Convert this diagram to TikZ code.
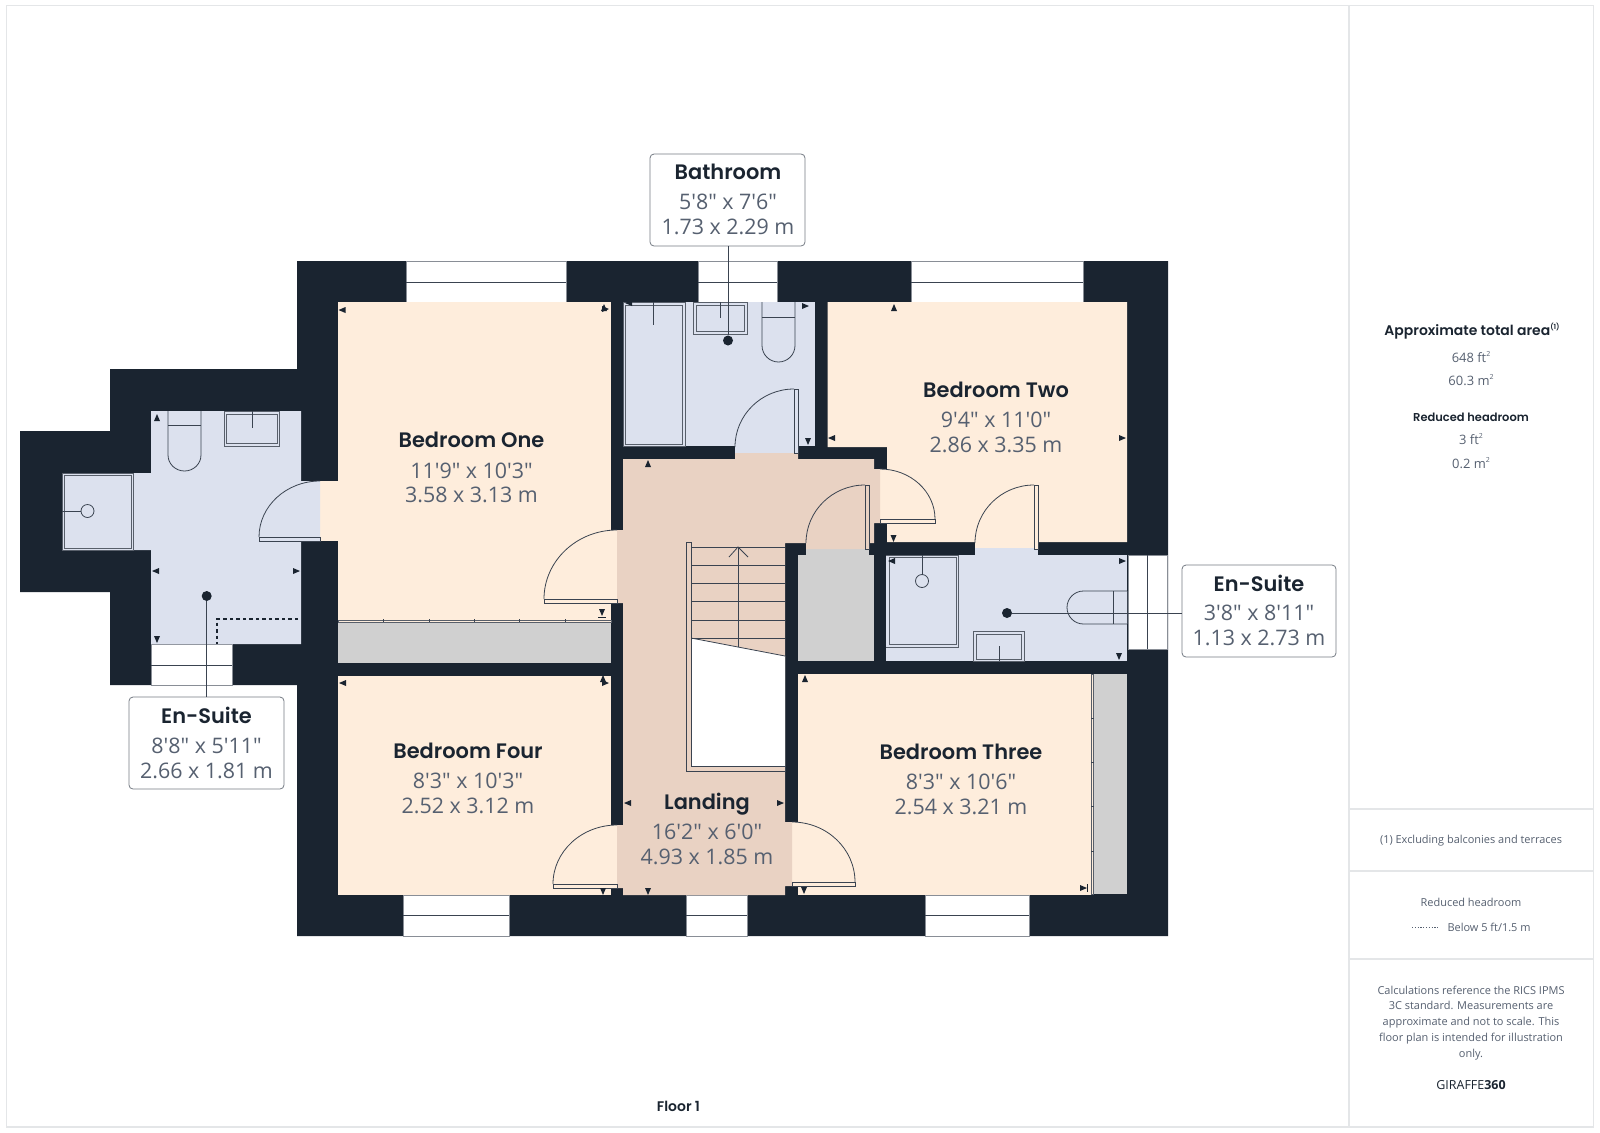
\documentclass[tikz,border=0pt]{standalone}
\usepackage{fontspec}
\setmainfont{Open Sans}[Ligatures=TeXOff]
\newfontfamily\ttl{Poppins}[UprightFont=*-Medium,BoldFont=*-SemiBold]
\definecolor{wallc}{HTML}{1A2430}
\definecolor{bedc}{HTML}{FEEDDC}
\definecolor{bathc}{HTML}{DCE1EE}
\definecolor{landc}{HTML}{E9D2C3}
\definecolor{stoc}{HTML}{D0D0D0}
\definecolor{framec}{HTML}{E4E6E8}
\definecolor{txtc}{HTML}{566070}
\definecolor{linec}{HTML}{3A4350}
\tikzset{
  thinl/.style={draw=linec,line width=0.8bp},
  fix/.style={draw=linec!85,line width=0.9bp},
  frameline/.style={draw=framec,line width=1.2bp},
  lab/.style={draw=linec!70,fill=white,rounded corners=4bp,line width=0.8bp,inner sep=0pt},
  title/.style={font=\ttl\bfseries\fontsize{21}{21}\selectfont,text=wallc,inner sep=0pt},
  dims/.style={font=\fontsize{21.5}{21.5}\selectfont,text=txtc,inner sep=0pt},
  ptitle/.style={font=\ttl\bfseries\fontsize{14}{14}\selectfont,text=wallc,inner sep=0pt},
  pdim/.style={font=\fontsize{13}{13}\selectfont,text=txtc,inner sep=0pt},
  pnote/.style={font=\fontsize{11}{11}\selectfont,text=txtc,inner sep=0pt},
  dotn/.style={circle,fill=wallc,minimum size=10bp,inner sep=0pt},
  wnd/.style={fill=white,draw=linec!60,line width=0.6bp},
}
\newcommand\mk[3]{\fill[wallc,shift={(#1,#2)},rotate=#3] (0,0)--(-7,3)--(-7,-3)--cycle;}
\newcommand\qarc[4]{\draw[thinl] (#1,#2) .. controls ({#1+0.552*(#3-(#1))},#2) and (#3,{#4-0.552*(#4-(#2))}) .. (#3,#4);}
\newcommand\tsup[1]{\raisebox{0.75ex}{\fontsize{7}{7}\selectfont #1}}
\begin{document}
\begin{tikzpicture}[x=1bp,y=-1bp]
\useasboundingbox (0,0) rectangle (1600,1132);
\fill[white] (0,0) rectangle (1600,1132);
% frame
\draw[frameline] (6.5,5.5) rectangle (1593.5,1127);
\draw[frameline] (1349,5.5) -- (1349,1127);
\draw[frameline] (1349,809) -- (1593.5,809);
\draw[frameline] (1349,871) -- (1593.5,871);
\draw[frameline] (1349,959) -- (1593.5,959);
% walls
\fill[wallc] (297,261) -- (1168,261) -- (1168,936) -- (297,936) -- (297,685) -- (110,685) -- (110,592) -- (20,592) -- (20,431) -- (110,431) -- (110,369) -- (297,369) -- cycle;
% windows
\foreach \xa/\xb in {406/566,698/777,911/1083}{
  \draw[wnd] (\xa,261) rectangle (\xb,302);
  \draw[thinl] (\xa,282) -- (\xb,282);}
\foreach \xa/\xb in {403/509,686/747,925/1029}{
  \draw[wnd] (\xa,895) rectangle (\xb,936);
  \draw[thinl] (\xa,915.5) -- (\xb,915.5);}
\draw[wnd] (151,644) rectangle (232,685);
\draw[thinl] (151,665) -- (232,665);
\draw[wnd] (1128,555) rectangle (1167,649);
\draw[thinl] (1147.5,555) -- (1147.5,649);
% bedrooms
\fill[bedc] (338,302) rectangle (611,621);
\fill[bedc] (611,530) rectangle (618,603);
\fill[bedc] (320,481) rectangle (338,541);
\fill[bedc] (338,676) rectangle (611,895);
\fill[bedc] (611,825) rectangle (618,888);
\fill[bedc] (827.5,302) -- (1127,302) -- (1127,542) -- (887,542) -- (887,523) -- (880,523) -- (880,469) -- (887,469) -- (887,447) -- (827.5,447) -- cycle;
\fill[bedc] (975,542) rectangle (1038,548.5);
\fill[bedc] (798,674) rectangle (1092,894.5);
\fill[bedc] (792,822) rectangle (798,886);
% storage
\fill[stoc] (338,622) rectangle (611,663);
\fill[stoc] (798,555) rectangle (874,661);
\fill[stoc] (806,549) rectangle (869,555);
\fill[stoc] (1093,674) rectangle (1127,894);
% bathrooms
\fill[bathc] (623,302) rectangle (815,446);
\fill[bathc] (735,446) rectangle (798,453);
\fill[bathc] (886,555) rectangle (1127,661);
\fill[bathc] (975,548) rectangle (1038,555);
\fill[bathc] (151,411) -- (301,411) -- (301,481) -- (320,481) -- (320,541) -- (301,541) -- (301,644) -- (151,644) -- (151,550) -- (63,550) -- (63,473) -- (151,473) -- cycle;
% landing
\fill[landc] (623,459) -- (735,459) -- (735,453) -- (798,453) -- (798,459) -- (874,459) -- (874,469) -- (880,469) -- (880,523) -- (874,523) -- (874,543) -- (869,543) -- (869,549) -- (806,549) -- (806,543) -- (785,543) -- (785,822) -- (792,822) -- (792,886) -- (785,886) -- (785,895) -- (623,895) -- (623,888) -- (617,888) -- (617,825) -- (623,825) -- (623,603) -- (617,603) -- (617,530) -- (623,530) -- cycle;
% stairs
\fill[white] (691,638) -- (785,656) -- (785,766) -- (691,766) -- cycle;
\foreach \yy in {547,565.5,583.5,601.5,620,638}{\draw[thinl] (691,\yy) -- (785,\yy);}
\draw[thinl] (691,638) -- (785,656);
\draw[thinl] (738,647) -- (738,547);
\draw[thinl] (729,557) -- (738,547) -- (748,557);
\draw[thinl,fill=landc] (686,542) -- (691,542) -- (691,766) -- (785,766) -- (785,771) -- (686,771) -- cycle;
% door leaves
\draw[thinl,fill=bathc] (259,537) rectangle (320,541);
\qarc{320}{481}{259}{537}
\draw[thinl,fill=bedc] (544,599) rectangle (617,603);
\qarc{617}{530}{544}{599}
\draw[thinl,fill=bedc] (553,884) rectangle (617,888);
\qarc{617}{825}{553}{884}
\draw[thinl,fill=bedc] (792,882) rectangle (855,886);
\qarc{792}{822}{855}{882}
\draw[thinl,fill=bathc] (794,389) rectangle (798,453);
\qarc{794}{389}{735}{447}
\draw[thinl,fill=bedc] (880,519) rectangle (935,523);
\qarc{880}{469}{935}{519}
\draw[thinl,fill=landc] (865,485) rectangle (869,549);
\qarc{865}{485}{806}{543}
\draw[thinl,fill=bedc] (1034,485) rectangle (1038,549);
\qarc{1034}{485}{975}{543}
% wardrobes
\draw[fix,fill=bedc] (338,620) rectangle (611,622);
\foreach \xx in {383,429,474,519,565}{\draw[thinl] (\xx,619) -- (\xx,622);}
\draw[fix,fill=bedc] (1091.5,674) rectangle (1093.5,894.5);
\foreach \yy in {718,762,806,851}{\draw[thinl] (1091,\yy) -- (1094,\yy);}
% fixtures: left en-suite
\draw[fix] (62.5,473) rectangle (133,550);
\draw[fix] (64.5,475) rectangle (131,548);
\draw[thinl] (87.5,511) circle (6.5);
\draw[thinl] (62,511) -- (81,511);
\draw[thinl] (168,411) -- (168,455) arc[start angle=180,end angle=360,x radius=16.5,y radius=-16] -- (201,411);
\draw[thinl] (168,425.5) -- (201,425.5);
\draw[fix] (224,411) rectangle (279,446);
\draw[fix] (226,414) rectangle (277,443);
\draw[thinl] (252,411) -- (252,428);
% bathroom
\draw[fix] (623,302) rectangle (685,446);
\draw[fix] (625,305) rectangle (682,444);
\draw[thinl] (653,302) -- (653,325);
\draw[fix] (693,302) rectangle (747,334);
\draw[fix] (696,305) rectangle (744.5,331);
\draw[thinl] (720,302) -- (720,318);
\draw[thinl] (762,302) -- (762,345.5) arc[start angle=180,end angle=360,x radius=16.5,y radius=-16.5] -- (795,302);
\draw[thinl] (762,317) -- (795,317);
% right en-suite
\draw[fix] (886,555) -- (958,555) -- (958,647) -- (886,647);
\draw[fix] (889,557) rectangle (956,644.5);
\draw[thinl] (922,581) circle (6.5);
\draw[thinl] (922,555) -- (922,574.5);
\draw[fix] (973,631) rectangle (1024,661);
\draw[fix] (976,634) rectangle (1021,659);
\draw[thinl] (999,661) -- (999,646);
\draw[thinl] (1127,591) -- (1083.5,591) arc[start angle=90,end angle=270,x radius=16.5,y radius=-16.5] -- (1127,624);
\draw[thinl] (1127,591) -- (1127,624);
\draw[thinl] (1113,591) -- (1113,624);
% dashed reduced headroom
\draw[wallc,line width=1.4bp,dash pattern=on 3.5bp off 3bp] (298,619) -- (217,619) -- (217,644);
% dimension markers
\mk{157}{414}{90}\mk{152}{571}{180}\mk{300}{571}{0}\mk{157}{643}{270}
\mk{338.5}{310}{180}\mk{604}{304}{90}\mk{609}{309}{0}\mk{602}{616}{270}
\draw[wallc,line width=1bp] (598,617) -- (606,617);
\mk{339}{683}{180}\mk{609}{683}{0}\mk{603}{675}{90}\mk{603}{895}{270}
\mk{625}{303}{180}\mk{809}{306}{0}\mk{808}{445}{270}
\mk{648}{460}{90}\mk{624}{803}{180}\mk{784}{803}{0}\mk{648}{895}{270}
\mk{805}{675}{90}\mk{804}{894}{270}\mk{1087}{888}{0}
\draw[wallc,line width=1bp] (1087,884) -- (1087,892);
\mk{894}{304}{90}\mk{828}{438}{180}\mk{1126}{438}{0}\mk{893.5}{542}{270}
\mk{888}{561}{180}\mk{1126}{561}{0}\mk{1119}{660}{270}
% room labels
\node[title] (t1) at (471.5,440) {Bedroom One};
\node[dims] (d1a) at (471.5,471) {11'9" x 10'3"};
\node[dims] (d1b) at (471.5,495) {3.58 x 3.13 m};
\node[title] (t2) at (996,390) {Bedroom Two};
\node[dims] (d2a) at (996,420) {9'4" x 11'0"};
\node[dims] (d2b) at (996,444.5) {2.86 x 3.35 m};
\node[title] (t3) at (961,752) {Bedroom Three};
\node[dims] (d3a) at (961,782) {8'3" x 10'6"};
\node[dims] (d3b) at (961,806.5) {2.54 x 3.21 m};
\node[title] (t4) at (468,751) {Bedroom Four};
\node[dims] (d4a) at (468,781) {8'3" x 10'3"};
\node[dims] (d4b) at (468,805.5) {2.52 x 3.12 m};
\node[title] (t5) at (707,804.5) {Landing};
\node[dims] (d5a) at (707,831.5) {16'2" x 6'0"};
\node[dims] (d5b) at (707,856.5) {4.93 x 1.85 m};
% callouts
\node[lab,minimum width=155bp,minimum height=92bp] (lb1) at (206.5,743) {};
\node[lab,minimum width=155bp,minimum height=92bp] (lb2) at (727.5,200) {};
\node[lab,minimum width=154bp,minimum height=92bp] (lb3) at (1259,611) {};
\node[dotn] (dot1) at (206.7,596) {};
\node[dotn] (dot2) at (728,340.5) {};
\node[dotn] (dot3) at (1007,613) {};
\draw[thinl] (dot1) -- (lb1.north -| dot1);
\draw[thinl] (dot2) -- (lb2.south -| dot2);
\draw[thinl] (dot3) -- (dot3 -| lb3.west);
\node[title] (c1) at (206.5,715.5) {En-Suite};
\node[dims] (c1a) at (206.5,745.5) {8'8" x 5'11"};
\node[dims] (c1b) at (206.5,770.5) {2.66 x 1.81 m};
\node[title] (c2) at (728,172) {Bathroom};
\node[dims] (c2a) at (728,201.5) {5'8" x 7'6"};
\node[dims] (c2b) at (728,226.5) {1.73 x 2.29 m};
\node[title] (c3) at (1259,583) {En-Suite};
\node[dims] (c3a) at (1259,612.5) {3'8" x 8'11"};
\node[dims] (c3b) at (1259,637.5) {1.13 x 2.73 m};
% floor
\node[ptitle] (fl) at (678.5,1106) {Floor 1};
% side panel
\node[ptitle] (p1) at (1472,331) {Approximate total area\tsup{(1)}};
\node[pdim] (p2) at (1471,357) {648 ft\tsup{2}};
\node[pdim] (p3) at (1471,380) {60.3 m\tsup{2}};
\node[ptitle,font=\ttl\bfseries\fontsize{11.5}{11.5}\selectfont] (p4) at (1471,417) {Reduced headroom};
\node[pdim] (p5) at (1471,439) {3 ft\tsup{2}};
\node[pdim] (p6) at (1471,463) {0.2 m\tsup{2}};
\node[pnote] (n1) at (1471,840.5) {(1) Excluding balconies and terraces};
\node[pnote] (n2) at (1471,902.5) {Reduced headroom};
\node[pnote] (n3) at (1489,927.5) {Below 5 ft/1.5 m};
\draw[txtc,line width=0.7bp,dash pattern=on 1.2bp off 1.6bp] (1412,927) -- (1439,927);
\node[pnote,align=center,font=\fontsize{11}{16}\selectfont] (n4) at (1471,1023) {Calculations reference the RICS IPMS\\3C standard. Measurements are\\approximate and not to scale. This\\floor plan is intended for illustration\\only.};
\node[pnote,text=wallc,font=\fontsize{12.5}{12.5}\selectfont] (n5) at (1471,1085) {GIRAFFE\textbf{360}};
\end{tikzpicture}
\end{document}
